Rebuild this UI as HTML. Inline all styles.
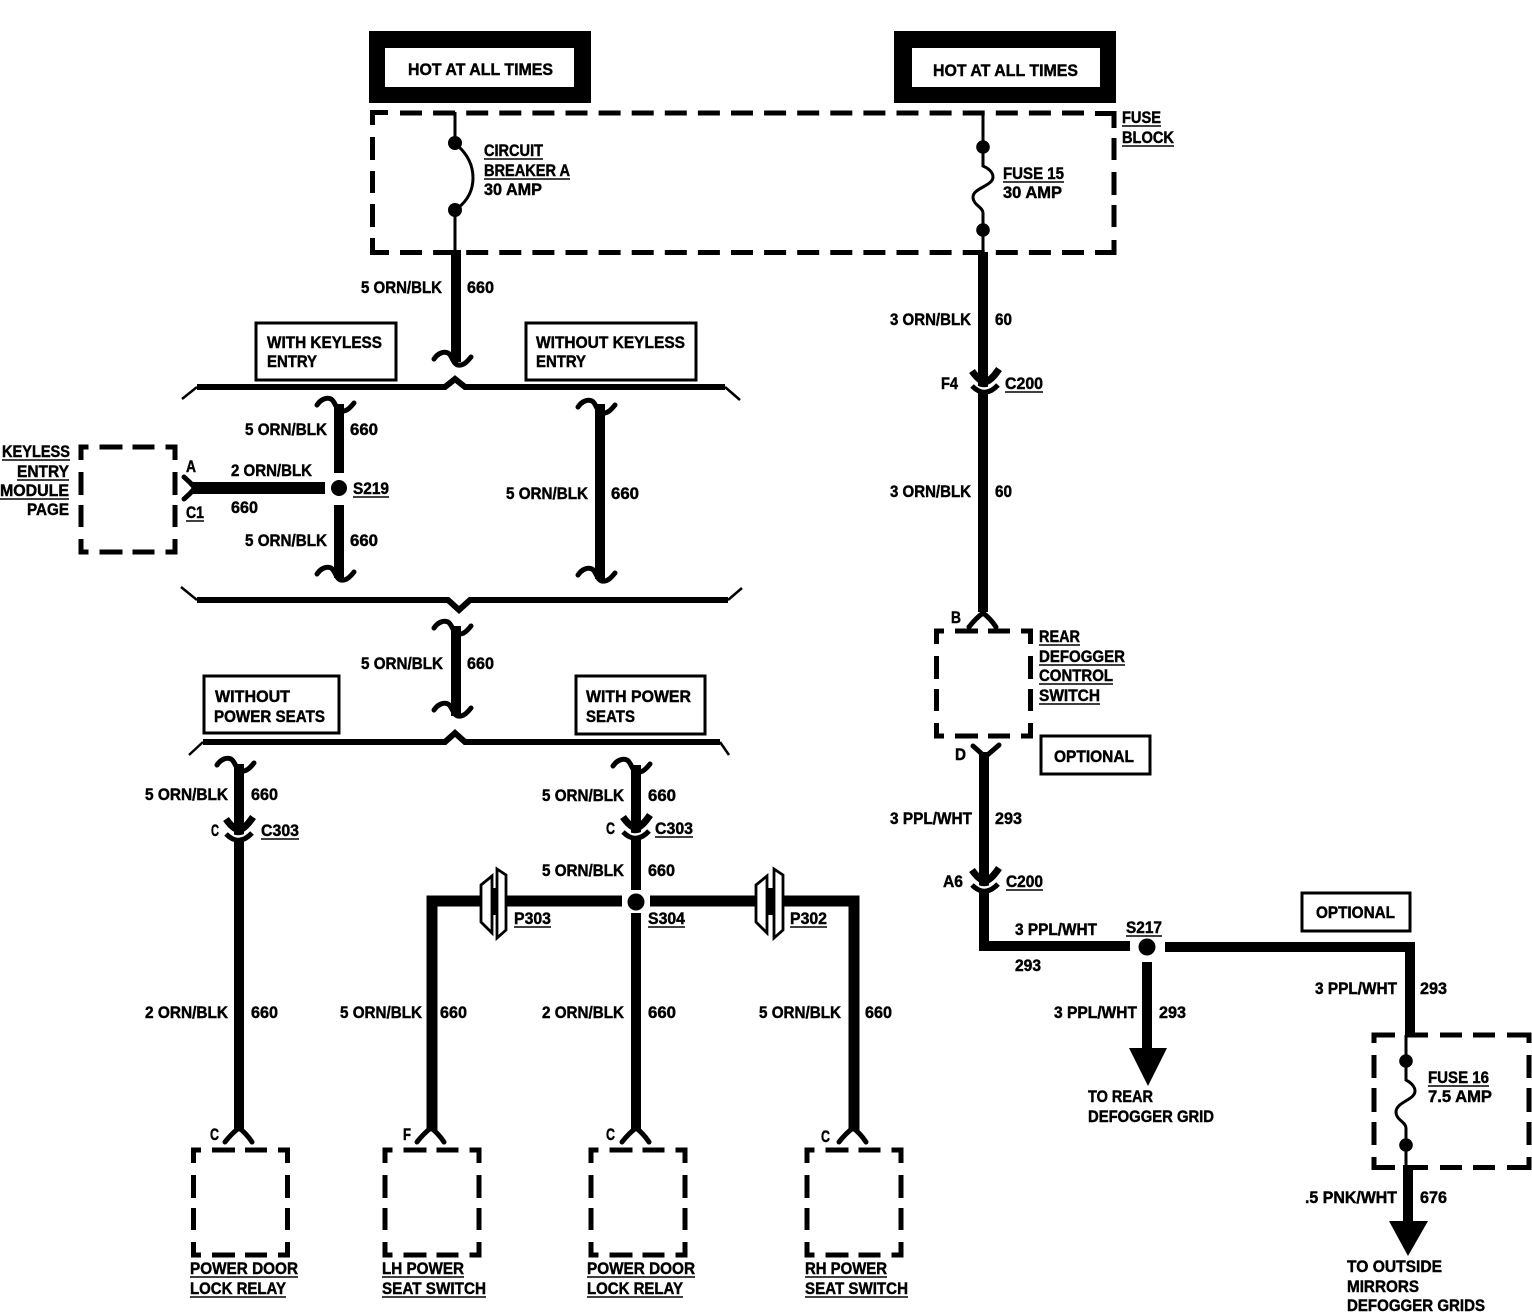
<!DOCTYPE html>
<html><head><meta charset="utf-8"><style>
html,body{margin:0;padding:0;background:#fff}
svg{display:block}
text{font-family:"Liberation Sans",sans-serif;font-weight:bold;font-size:16.5px;fill:#000;stroke:#000;stroke-width:.45px}
</style></head><body>
<svg width="1532" height="1312" viewBox="0 0 1532 1312" xmlns="http://www.w3.org/2000/svg">
<defs>
<path id="tl" d="M-22 1C-18 -5 -12 -7 -8 -5C-4 -3 -3 6 2 7C7 8 11 4 15 -1" fill="none" stroke="#000" stroke-width="5" stroke-linecap="round"/>
<path id="arch" d="M-14 9Q-7 0 0 -5Q7 0 13 9" fill="none" stroke="#000" stroke-width="5" stroke-linecap="round"/>
<g id="conn"><path d="M-13 -12Q-6 -2 0 -1Q6 -2 14 -14" fill="none" stroke="#000" stroke-width="7"/><path d="M-10 3Q0 9 10 2" fill="none" stroke="#fff" stroke-width="3"/><path d="M-13 3Q0 16 13 2" fill="none" stroke="#000" stroke-width="5"/></g>
<path id="dbox" fill="none" stroke="#000" stroke-width="5" d="M0 13V0H7.5M18.5 0H41.5M51.5 0H73.5M84.5 0H94V13M94 25V48M94 58V80M94 92V105H84.5M73.5 105H51.5M41.5 105H18.5M7.5 105H0V92M0 80V58M0 48V25"/>
</defs>

<!-- HOT boxes -->
<rect x="369" y="31" width="222" height="72" fill="#000"/><rect x="385" y="48" width="189" height="39" fill="#fff"/>
<rect x="894" y="31" width="222" height="72" fill="#000"/><rect x="912" y="48" width="188" height="39" fill="#fff"/>

<!-- Fuse block dashed -->
<g fill="none" stroke="#000" stroke-width="5">
<path d="M372.5 125V112.5H388M372.5 137V160M372.5 171V193M372.5 204V227M372.5 238V252.5H389"/>
<path d="M1095 113.5H1114V128M1114 138V160M1114 172V195M1114 205V227M1114 240V252.5H1095"/>
<path d="M400 113H1084M400 252.5H1084" stroke-dasharray="22 11.1"/>
<!-- Fuse 16 dashed -->
<path d="M1374 1043V1035H1395M1407 1035H1428M1440 1035H1462M1473 1035H1495M1507 1035H1529V1043M1529 1055V1078M1529 1088V1112M1529 1122V1145M1529 1157V1167.5H1507M1495 1167.5H1473M1462 1167.5H1440M1428 1167.5H1407M1395 1167.5H1374V1157M1374 1145V1122M1374 1112V1088M1374 1078V1055"/>
</g>
<use href="#dbox" x="81" y="447"/>
<use href="#dbox" x="936.5" y="631"/>
<use href="#dbox" x="193.5" y="1150"/>
<use href="#dbox" x="385" y="1150"/>
<use href="#dbox" x="591" y="1150"/>
<use href="#dbox" x="807" y="1150"/>

<!-- Label boxes -->
<g fill="#fff" stroke="#000" stroke-width="3">
<rect x="256" y="323" width="140" height="57"/>
<rect x="526" y="323" width="170" height="57"/>
<rect x="204" y="676" width="135" height="57"/>
<rect x="576" y="676" width="129" height="58"/>
<rect x="1041" y="736" width="109" height="38"/>
<rect x="1302" y="893" width="108" height="38"/>
</g>

<!-- Bus lines -->
<g fill="none" stroke="#000" stroke-width="6">
<path d="M197 387H445L455 379L465 387H725"/>
<path d="M197 600H448L459 610L470 600H728"/>
<path d="M203 742H445L455 733L465 742H720"/>
</g>
<g fill="none" stroke="#000" stroke-width="2.5">
<path d="M182 399L197 387M725 387L740 400M181 587L197 600M728 600L742 588M189 755L203 742M720 742L729 755"/>
</g>

<!-- Fuse/breaker thin wires -->
<g fill="none" stroke="#000" stroke-width="3">
<path d="M455 112V143M455 210V250"/>
<path d="M458 146C468 155 473 166 473 178C473 190 468 200 458 208"/>
<path d="M983 112V147V166C988 168 993 172 993 177C993 186 973 188 973 197C973 205 983 207 983 213V252"/>
<path d="M1406 1035V1080C1410 1082 1415 1086 1415 1091C1415 1100 1396 1102 1396 1112C1396 1120 1406 1122 1406 1128V1165"/>
</g>
<g fill="#000">
<circle cx="455" cy="143" r="7"/><circle cx="455" cy="210" r="7"/>
<circle cx="983" cy="147" r="6.8"/><circle cx="983" cy="230" r="6.8"/>
<circle cx="1406" cy="1061" r="6.8"/><circle cx="1406" cy="1145" r="6.8"/>
<circle cx="339" cy="488" r="8"/><circle cx="636" cy="902" r="8.5"/><circle cx="1147" cy="947" r="8.5"/>
</g>

<!-- Thick wires -->
<g fill="none" stroke="#000" stroke-width="10">
<path d="M456 250V362"/>
<path d="M339 404V473M339 505V578"/>
<path d="M600 404V579"/>
<path d="M456 626V716"/>
<path d="M239 764V1130"/>
<path d="M636 765V890M636 913V1130"/>
<path d="M983 252V612"/>
<path d="M984 752V946H1130"/>
<path d="M1165 947H1410V1035"/>
<path d="M1147 962V1050"/>
<path d="M1408 1165V1225"/>
</g>
<path fill="none" stroke="#000" stroke-width="11" d="M432 1130V901H622M650 901H854V1130"/>
<rect x="192" y="482" width="133" height="12"/>
<path d="M184 477Q190 482 195 488Q190 494 184 499" fill="none" stroke="#000" stroke-width="5" stroke-linecap="round"/>
<polygon points="1129,1048 1167,1048 1148,1086"/>
<polygon points="1389,1221 1428,1221 1408,1256"/>

<use href="#tl" x="456" y="358"/>
<use href="#tl" x="339" y="404"/>
<use href="#tl" x="339" y="573"/>
<use href="#tl" x="600" y="406"/>
<use href="#tl" x="600" y="574"/>
<use href="#tl" x="456" y="627"/>
<use href="#tl" x="456" y="709"/>
<use href="#tl" x="239" y="764"/>
<use href="#tl" x="635" y="765"/>
<use href="#conn" x="985" y="383"/>
<use href="#conn" x="985" y="882"/>
<use href="#conn" x="239" y="831"/>
<use href="#conn" x="636" y="829"/>
<use href="#arch" x="983" y="618"/>
<path d="M973 746Q980 752 985 757Q991 752 999 745" fill="none" stroke="#000" stroke-width="5" stroke-linecap="round"/>
<use href="#arch" x="239" y="1133"/>
<use href="#arch" x="431" y="1133"/>
<use href="#arch" x="636" y="1133"/>
<use href="#arch" x="853" y="1133"/>

<!-- Plugs -->
<g fill="#fff" stroke="#000" stroke-width="2.8">
<polygon points="481,885 492,876 492,933 481,922"/>
<polygon points="497,869 506,875 506,930 497,938"/>
<polygon points="756,885 767,876 767,933 756,922"/>
<polygon points="774,869 783,875 783,930 774,938"/>
</g>
<path d="M494.500 888V915M770.500 888V915" stroke="#000" stroke-width="5"/>

<!-- Underlines -->
<path fill="none" stroke="#000" stroke-width="1.6" d="M484 159H543M484 179H570M1122 126H1161M1122 146H1174M1003 182H1064M1005 392H1043M2 460H70M17 480H69M0 499H69M186 521H204M353 497H389M1039 645H1080M1039 665H1125M1039 684H1113M1039 704H1100M1006 890H1043M1126 936H1162M1428 1086H1489M261 839H299M655 837H693M514 927H551M648 927H685M790 927H827M190 1277H298M190 1297H286M382 1277H464M382 1297H486M587 1277H695M587 1297H683M805 1277H887M805 1297H908"/>

<!-- Text -->
<text x="408" y="75" textLength="145" lengthAdjust="spacingAndGlyphs">HOT AT ALL TIMES</text>
<text x="933" y="76" textLength="145" lengthAdjust="spacingAndGlyphs">HOT AT ALL TIMES</text>
<text x="484" y="156" textLength="59" lengthAdjust="spacingAndGlyphs">CIRCUIT</text>
<text x="484" y="176" textLength="86" lengthAdjust="spacingAndGlyphs">BREAKER A</text>
<text x="484" y="195" textLength="58" lengthAdjust="spacingAndGlyphs">30 AMP</text>
<text x="1122" y="123" textLength="39" lengthAdjust="spacingAndGlyphs">FUSE</text>
<text x="1122" y="143" textLength="52" lengthAdjust="spacingAndGlyphs">BLOCK</text>
<text x="1003" y="179" textLength="61" lengthAdjust="spacingAndGlyphs">FUSE 15</text>
<text x="1003" y="198" textLength="59" lengthAdjust="spacingAndGlyphs">30 AMP</text>
<text x="361" y="293" textLength="81" lengthAdjust="spacingAndGlyphs">5 ORN/BLK</text>
<text x="467" y="293" textLength="27" lengthAdjust="spacingAndGlyphs">660</text>
<text x="890" y="325" textLength="81" lengthAdjust="spacingAndGlyphs">3 ORN/BLK</text>
<text x="995" y="325" textLength="17" lengthAdjust="spacingAndGlyphs">60</text>
<text x="941" y="389" textLength="17" lengthAdjust="spacingAndGlyphs">F4</text>
<text x="1005" y="389" textLength="38" lengthAdjust="spacingAndGlyphs">C200</text>
<text x="890" y="497" textLength="81" lengthAdjust="spacingAndGlyphs">3 ORN/BLK</text>
<text x="995" y="497" textLength="17" lengthAdjust="spacingAndGlyphs">60</text>
<text x="267" y="348" textLength="115" lengthAdjust="spacingAndGlyphs">WITH KEYLESS</text>
<text x="267" y="367" textLength="50" lengthAdjust="spacingAndGlyphs">ENTRY</text>
<text x="536" y="348" textLength="149" lengthAdjust="spacingAndGlyphs">WITHOUT KEYLESS</text>
<text x="536" y="367" textLength="50" lengthAdjust="spacingAndGlyphs">ENTRY</text>
<text x="245" y="435" textLength="82" lengthAdjust="spacingAndGlyphs">5 ORN/BLK</text>
<text x="350" y="435" textLength="28" lengthAdjust="spacingAndGlyphs">660</text>
<text x="2" y="457" textLength="68" lengthAdjust="spacingAndGlyphs">KEYLESS</text>
<text x="17" y="477" textLength="52" lengthAdjust="spacingAndGlyphs">ENTRY</text>
<text x="0" y="496" textLength="69" lengthAdjust="spacingAndGlyphs">MODULE</text>
<text x="27" y="515" textLength="42" lengthAdjust="spacingAndGlyphs">PAGE</text>
<text x="186" y="472" textLength="10" lengthAdjust="spacingAndGlyphs">A</text>
<text x="186" y="518" textLength="18" lengthAdjust="spacingAndGlyphs">C1</text>
<text x="231" y="476" textLength="81" lengthAdjust="spacingAndGlyphs">2 ORN/BLK</text>
<text x="231" y="513" textLength="27" lengthAdjust="spacingAndGlyphs">660</text>
<text x="353" y="494" textLength="36" lengthAdjust="spacingAndGlyphs">S219</text>
<text x="245" y="546" textLength="82" lengthAdjust="spacingAndGlyphs">5 ORN/BLK</text>
<text x="350" y="546" textLength="28" lengthAdjust="spacingAndGlyphs">660</text>
<text x="506" y="499" textLength="82" lengthAdjust="spacingAndGlyphs">5 ORN/BLK</text>
<text x="611" y="499" textLength="28" lengthAdjust="spacingAndGlyphs">660</text>
<text x="951" y="623" textLength="10" lengthAdjust="spacingAndGlyphs">B</text>
<text x="1039" y="642" textLength="41" lengthAdjust="spacingAndGlyphs">REAR</text>
<text x="1039" y="662" textLength="86" lengthAdjust="spacingAndGlyphs">DEFOGGER</text>
<text x="1039" y="681" textLength="74" lengthAdjust="spacingAndGlyphs">CONTROL</text>
<text x="1039" y="701" textLength="61" lengthAdjust="spacingAndGlyphs">SWITCH</text>
<text x="955" y="760" textLength="11" lengthAdjust="spacingAndGlyphs">D</text>
<text x="1054" y="762" textLength="80" lengthAdjust="spacingAndGlyphs">OPTIONAL</text>
<text x="890" y="824" textLength="82" lengthAdjust="spacingAndGlyphs">3 PPL/WHT</text>
<text x="995" y="824" textLength="27" lengthAdjust="spacingAndGlyphs">293</text>
<text x="943" y="887" textLength="20" lengthAdjust="spacingAndGlyphs">A6</text>
<text x="1006" y="887" textLength="37" lengthAdjust="spacingAndGlyphs">C200</text>
<text x="1015" y="935" textLength="82" lengthAdjust="spacingAndGlyphs">3 PPL/WHT</text>
<text x="1126" y="933" textLength="36" lengthAdjust="spacingAndGlyphs">S217</text>
<text x="1015" y="971" textLength="26" lengthAdjust="spacingAndGlyphs">293</text>
<text x="1316" y="918" textLength="79" lengthAdjust="spacingAndGlyphs">OPTIONAL</text>
<text x="1315" y="994" textLength="82" lengthAdjust="spacingAndGlyphs">3 PPL/WHT</text>
<text x="1420" y="994" textLength="27" lengthAdjust="spacingAndGlyphs">293</text>
<text x="1054" y="1018" textLength="83" lengthAdjust="spacingAndGlyphs">3 PPL/WHT</text>
<text x="1159" y="1018" textLength="27" lengthAdjust="spacingAndGlyphs">293</text>
<text x="1088" y="1102" textLength="65" lengthAdjust="spacingAndGlyphs">TO REAR</text>
<text x="1088" y="1122" textLength="126" lengthAdjust="spacingAndGlyphs">DEFOGGER GRID</text>
<text x="1428" y="1083" textLength="61" lengthAdjust="spacingAndGlyphs">FUSE 16</text>
<text x="1428" y="1102" textLength="64" lengthAdjust="spacingAndGlyphs">7.5 AMP</text>
<text x="1305" y="1203" textLength="92" lengthAdjust="spacingAndGlyphs">.5 PNK/WHT</text>
<text x="1420" y="1203" textLength="27" lengthAdjust="spacingAndGlyphs">676</text>
<text x="1347" y="1272" textLength="95" lengthAdjust="spacingAndGlyphs">TO OUTSIDE</text>
<text x="1347" y="1292" textLength="72" lengthAdjust="spacingAndGlyphs">MIRRORS</text>
<text x="1347" y="1311" textLength="138" lengthAdjust="spacingAndGlyphs">DEFOGGER GRIDS</text>
<text x="361" y="669" textLength="82" lengthAdjust="spacingAndGlyphs">5 ORN/BLK</text>
<text x="467" y="669" textLength="27" lengthAdjust="spacingAndGlyphs">660</text>
<text x="215" y="702" textLength="75" lengthAdjust="spacingAndGlyphs">WITHOUT</text>
<text x="214" y="722" textLength="111" lengthAdjust="spacingAndGlyphs">POWER SEATS</text>
<text x="586" y="702" textLength="105" lengthAdjust="spacingAndGlyphs">WITH POWER</text>
<text x="586" y="722" textLength="49" lengthAdjust="spacingAndGlyphs">SEATS</text>
<text x="145" y="800" textLength="83" lengthAdjust="spacingAndGlyphs">5 ORN/BLK</text>
<text x="251" y="800" textLength="27" lengthAdjust="spacingAndGlyphs">660</text>
<text x="211" y="836" textLength="8" lengthAdjust="spacingAndGlyphs">C</text>
<text x="261" y="836" textLength="38" lengthAdjust="spacingAndGlyphs">C303</text>
<text x="542" y="801" textLength="82" lengthAdjust="spacingAndGlyphs">5 ORN/BLK</text>
<text x="648" y="801" textLength="28" lengthAdjust="spacingAndGlyphs">660</text>
<text x="606" y="834" textLength="9" lengthAdjust="spacingAndGlyphs">C</text>
<text x="655" y="834" textLength="38" lengthAdjust="spacingAndGlyphs">C303</text>
<text x="542" y="876" textLength="82" lengthAdjust="spacingAndGlyphs">5 ORN/BLK</text>
<text x="648" y="876" textLength="27" lengthAdjust="spacingAndGlyphs">660</text>
<text x="514" y="924" textLength="37" lengthAdjust="spacingAndGlyphs">P303</text>
<text x="648" y="924" textLength="37" lengthAdjust="spacingAndGlyphs">S304</text>
<text x="790" y="924" textLength="37" lengthAdjust="spacingAndGlyphs">P302</text>
<text x="145" y="1018" textLength="83" lengthAdjust="spacingAndGlyphs">2 ORN/BLK</text>
<text x="251" y="1018" textLength="27" lengthAdjust="spacingAndGlyphs">660</text>
<text x="340" y="1018" textLength="82" lengthAdjust="spacingAndGlyphs">5 ORN/BLK</text>
<text x="440" y="1018" textLength="27" lengthAdjust="spacingAndGlyphs">660</text>
<text x="542" y="1018" textLength="82" lengthAdjust="spacingAndGlyphs">2 ORN/BLK</text>
<text x="648" y="1018" textLength="28" lengthAdjust="spacingAndGlyphs">660</text>
<text x="759" y="1018" textLength="82" lengthAdjust="spacingAndGlyphs">5 ORN/BLK</text>
<text x="865" y="1018" textLength="27" lengthAdjust="spacingAndGlyphs">660</text>
<text x="210" y="1140" textLength="9" lengthAdjust="spacingAndGlyphs">C</text>
<text x="403" y="1140" textLength="8" lengthAdjust="spacingAndGlyphs">F</text>
<text x="606" y="1140" textLength="9" lengthAdjust="spacingAndGlyphs">C</text>
<text x="821" y="1142" textLength="9" lengthAdjust="spacingAndGlyphs">C</text>
<text x="190" y="1274" textLength="108" lengthAdjust="spacingAndGlyphs">POWER DOOR</text>
<text x="190" y="1294" textLength="96" lengthAdjust="spacingAndGlyphs">LOCK RELAY</text>
<text x="382" y="1274" textLength="82" lengthAdjust="spacingAndGlyphs">LH POWER</text>
<text x="382" y="1294" textLength="104" lengthAdjust="spacingAndGlyphs">SEAT SWITCH</text>
<text x="587" y="1274" textLength="108" lengthAdjust="spacingAndGlyphs">POWER DOOR</text>
<text x="587" y="1294" textLength="96" lengthAdjust="spacingAndGlyphs">LOCK RELAY</text>
<text x="805" y="1274" textLength="82" lengthAdjust="spacingAndGlyphs">RH POWER</text>
<text x="805" y="1294" textLength="103" lengthAdjust="spacingAndGlyphs">SEAT SWITCH</text>
</svg>
</body></html>
